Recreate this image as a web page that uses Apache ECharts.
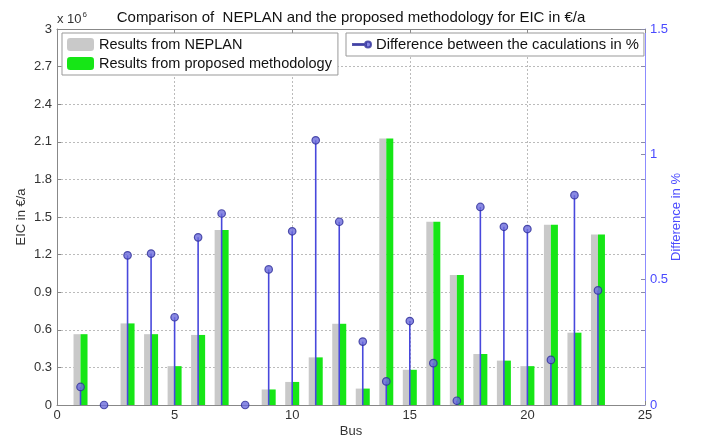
<!DOCTYPE html>
<html>
<head>
<meta charset="utf-8">
<script src="https://cdn.jsdelivr.net/npm/echarts@6/dist/echarts.min.js"></script>
<style>
  html, body { margin: 0; padding: 0; background: #fff; }
  #chart { width: 702px; height: 443px; }
</style>
</head>
<body>
<div id="chart"></div>
<script>
// Bus numbers (1..23)
const buses = [1, 2, 3, 4, 5, 6, 7, 8, 9, 10, 11, 12, 13, 14, 15, 16, 17, 18, 19, 20, 21, 22, 23];
// EIC from NEPLAN, in 10^6 €/a (null = no bar)
const eicNeplan = [0.565, null, 0.651, 0.565, 0.31, 0.559, 1.396, null, 0.124, 0.184, 0.38, 0.648, 0.131, 2.126, 0.281, 1.462, 1.037, 0.407, 0.354, 0.31, 1.438, 0.577, 1.36];
// EIC from the proposed methodology, in 10^6 €/a
const eicProposed = [0.565, null, 0.651, 0.565, 0.31, 0.559, 1.396, null, 0.124, 0.184, 0.38, 0.648, 0.131, 2.126, 0.281, 1.462, 1.037, 0.407, 0.354, 0.31, 1.438, 0.577, 1.36];
// Difference between the two calculations, in %
const diffPct = [0.072, 0, 0.597, 0.604, 0.35, 0.669, 0.764, 0, 0.541, 0.693, 1.056, 0.731, 0.253, 0.094, 0.335, 0.167, 0.017, 0.79, 0.711, 0.702, 0.18, 0.837, 0.457];

// Tick labels
const leftTicks = ['0', '0.3', '0.6', '0.9', '1.2', '1.5', '1.8', '2.1', '2.4', '2.7', '3'];
const rightLabels = [0, 0.5, 1, 1.5];
// right-hand tick marks: mirrored left ticks plus the labelled ones
const rightTicks = [0, 0.15, 0.3, 0.45, 0.5, 0.6, 0.75, 0.9, 1, 1.05, 1.2, 1.35, 1.5];

const pairs = (vals) => buses.map((b, i) => [b, vals[i]]).filter(p => p[1] !== null);

const FONT = 'Liberation Sans, Arial, sans-serif';
const chart = echarts.init(document.getElementById('chart'), null, { renderer: 'canvas' });

chart.setOption({
  animation: false,
  backgroundColor: '#ffffff',
  textStyle: { fontFamily: FONT },
  title: {
    text: 'Comparison of  NEPLAN and the proposed methodology for EIC in €/a',
    left: 346, top: 5, textAlign: 'center',
    textStyle: { fontFamily: FONT, fontSize: 15, fontWeight: 'normal', color: '#111' }
  },
  grid: { left: 57, right: 57, top: 29, bottom: 33 },
  graphic: [{
    type: 'text', left: 57, top: 11,
    style: {
      text: '{a|x 10}{b|6}',
      rich: {
        a: { fontFamily: FONT, fontSize: 13, fill: '#333' },
        b: { fontFamily: FONT, fontSize: 8, fill: '#333', verticalAlign: 'top', padding: [0, 0, 8, 1] }
      }
    }
  }],
  legend: [{
    data: ['Results from NEPLAN', 'Results from proposed methodology'],
    orient: 'vertical', left: 62, top: 33,
    itemWidth: 27, itemHeight: 13, itemGap: 4,
    padding: [4, 6, 4, 5],
    borderColor: '#999', borderWidth: 1, backgroundColor: '#fff',
    textStyle: { fontFamily: FONT, fontSize: 14.5, color: '#111' }
  }, {
    data: [{
      name: 'Difference between the caculations in %',
      icon: 'path://M0,4.4 L13,4.4 L13,5.6 L0,5.6 Z M15,5 m-3,0 a3,3 0 1,0 6,0 a3,3 0 1,0 -6,0 Z'
    }],
    left: 346, top: 33,
    itemWidth: 18, itemHeight: 7,
    padding: [4, 5, 4, 6],
    borderColor: '#999', borderWidth: 1, backgroundColor: '#fff',
    textStyle: { fontFamily: FONT, fontSize: 14.8, color: '#111' }
  }],
  xAxis: [{
    type: 'value', min: 0, max: 25, interval: 5, position: 'bottom',
    name: 'Bus', nameLocation: 'middle', nameGap: 20, nameMoveOverlap: false,
    nameTextStyle: { fontFamily: FONT, fontSize: 13, color: '#333' },
    axisLine: { onZero: false, lineStyle: { color: '#888' } },
    axisTick: { inside: true, length: 4, lineStyle: { color: '#888' } },
    axisLabel: { fontFamily: FONT, fontSize: 13, color: '#333', margin: 4 },
    splitLine: { show: true, lineStyle: { color: '#bbb', type: [2, 2] } }
  }, {
    type: 'value', min: 0, max: 25, interval: 5, position: 'top',
    axisLine: { show: true, onZero: false, lineStyle: { color: '#888' } },
    axisTick: { inside: true, length: 4, lineStyle: { color: '#888' } },
    axisLabel: { show: false },
    splitLine: { show: false }
  }],
  yAxis: [{
    type: 'value', min: 0, max: 3, interval: 0.3, position: 'left',
    name: 'EIC in €/a', nameLocation: 'middle', nameGap: 29, nameMoveOverlap: false,
    nameTextStyle: { fontFamily: FONT, fontSize: 13, color: '#333' },
    axisLine: { show: true, onZero: false, lineStyle: { color: '#888' } },
    axisTick: { show: true, inside: true, length: 4, lineStyle: { color: '#888' } },
    axisLabel: {
      fontFamily: FONT, fontSize: 13, color: '#333', margin: 5,
      formatter: (v) => leftTicks[Math.round(v / 0.3)]
    },
    splitLine: { show: true, lineStyle: { color: '#bbb', type: [2, 2] } }
  }, {
    type: 'value', min: 0, max: 1.5, position: 'right',
    name: 'Difference in %', nameLocation: 'middle', nameGap: 25, nameRotate: 90, nameMoveOverlap: false,
    nameTextStyle: { fontFamily: FONT, fontSize: 13, color: '#4a4aff' },
    axisLine: { show: true, onZero: false, lineStyle: { color: '#8c8cff' } },
    axisTick: { show: true, inside: true, length: 4, customValues: rightTicks, lineStyle: { color: '#8a8aa8' } },
    axisLabel: { fontFamily: FONT, fontSize: 13, color: '#4a4aff', margin: 5, customValues: rightLabels },
    splitLine: { show: false }
  }],
  series: [{
    name: 'Results from NEPLAN', type: 'bar',
    xAxisIndex: 0, yAxisIndex: 0,
    barWidth: 7, barGap: '0%',
    itemStyle: { color: '#c9c9c9' },
    data: pairs(eicNeplan)
  }, {
    name: 'Results from proposed methodology', type: 'bar',
    xAxisIndex: 0, yAxisIndex: 0,
    barWidth: 7, barGap: '0%',
    itemStyle: { color: '#16e616' },
    data: pairs(eicProposed)
  }, {
    name: 'stems', type: 'bar',
    xAxisIndex: 1, yAxisIndex: 1,
    barWidth: 1.6, z: 3,
    itemStyle: { color: '#4848dc' },
    data: pairs(diffPct)
  }, {
    name: 'Difference between the caculations in %', type: 'scatter',
    xAxisIndex: 1, yAxisIndex: 1, z: 4,
    symbol: 'circle', symbolSize: 7.5,
    itemStyle: { color: '#6c6cdc', borderColor: '#2e2e98', borderWidth: 1.2 },
    data: pairs(diffPct)
  }]
});
</script>
</body>
</html>
